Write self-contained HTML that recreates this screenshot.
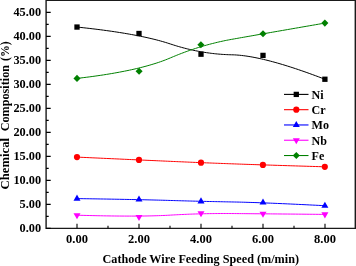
<!DOCTYPE html>
<html><head><meta charset="utf-8"><style>html,body{margin:0;padding:0;background:#fff;overflow:hidden}svg{display:block;will-change:transform}</style></head>
<body><svg width="356" height="266" viewBox="0 0 356 266">
<path d="M46.1 0.3H355.3V228.35H46.1Z" fill="none" stroke="#1a1a1a" stroke-width="1.4"/>
<text x="41.1" y="232.30" text-anchor="end" style="font-family:'Liberation Serif',serif;font-weight:bold;font-size:12.3px">0.00</text>
<text x="41.1" y="208.30" text-anchor="end" style="font-family:'Liberation Serif',serif;font-weight:bold;font-size:12.3px">5.00</text>
<text x="41.1" y="184.30" text-anchor="end" style="font-family:'Liberation Serif',serif;font-weight:bold;font-size:12.3px">10.00</text>
<text x="41.1" y="160.30" text-anchor="end" style="font-family:'Liberation Serif',serif;font-weight:bold;font-size:12.3px">15.00</text>
<text x="41.1" y="136.30" text-anchor="end" style="font-family:'Liberation Serif',serif;font-weight:bold;font-size:12.3px">20.00</text>
<text x="41.1" y="112.30" text-anchor="end" style="font-family:'Liberation Serif',serif;font-weight:bold;font-size:12.3px">25.00</text>
<text x="41.1" y="88.30" text-anchor="end" style="font-family:'Liberation Serif',serif;font-weight:bold;font-size:12.3px">30.00</text>
<text x="41.1" y="64.30" text-anchor="end" style="font-family:'Liberation Serif',serif;font-weight:bold;font-size:12.3px">35.00</text>
<text x="41.1" y="40.30" text-anchor="end" style="font-family:'Liberation Serif',serif;font-weight:bold;font-size:12.3px">40.00</text>
<text x="41.1" y="16.30" text-anchor="end" style="font-family:'Liberation Serif',serif;font-weight:bold;font-size:12.3px">45.00</text>
<text x="77" y="243" text-anchor="middle" style="font-family:'Liberation Serif',serif;font-weight:bold;font-size:12.5px">0.00</text>
<text x="139" y="243" text-anchor="middle" style="font-family:'Liberation Serif',serif;font-weight:bold;font-size:12.5px">2.00</text>
<text x="201" y="243" text-anchor="middle" style="font-family:'Liberation Serif',serif;font-weight:bold;font-size:12.5px">4.00</text>
<text x="263" y="243" text-anchor="middle" style="font-family:'Liberation Serif',serif;font-weight:bold;font-size:12.5px">6.00</text>
<text x="325" y="243" text-anchor="middle" style="font-family:'Liberation Serif',serif;font-weight:bold;font-size:12.5px">8.00</text>
<path d="M46.1 228.40h4.6 M46.1 204.40h4.6 M46.1 180.40h4.6 M46.1 156.40h4.6 M46.1 132.40h4.6 M46.1 108.40h4.6 M46.1 84.40h4.6 M46.1 60.40h4.6 M46.1 36.40h4.6 M46.1 12.40h4.6 M46.1 216.40h2.6 M46.1 192.40h2.6 M46.1 168.40h2.6 M46.1 144.40h2.6 M46.1 120.40h2.6 M46.1 96.40h2.6 M46.1 72.40h2.6 M46.1 48.40h2.6 M46.1 24.40h2.6 M77 228.35v-4.6 M139 228.35v-4.6 M201 228.35v-4.6 M263 228.35v-4.6 M325 228.35v-4.6 M108 228.35v-2.6 M170 228.35v-2.6 M232 228.35v-2.6 M294 228.35v-2.6" stroke="#000" stroke-width="1.1" fill="none"/>
<path d="M77.00 27.05 L80.11 27.38 L83.17 27.71 L86.20 28.05 L89.19 28.39 L92.14 28.74 L95.05 29.09 L97.92 29.45 L100.75 29.81 L103.54 30.18 L106.29 30.55 L109.00 30.93 L111.68 31.31 L114.31 31.70 L116.90 32.09 L119.46 32.49 L121.97 32.89 L124.45 33.29 L126.89 33.71 L129.28 34.12 L131.64 34.55 L133.96 34.97 L136.24 35.40 L138.48 35.84 L140.68 36.28 L142.84 36.73 L144.96 37.18 L147.04 37.64 L149.08 38.10 L151.09 38.57 L153.05 39.04 L154.97 39.51 L156.86 39.99 L158.70 40.48 L160.51 40.97 L162.28 41.47 L164.00 41.97 L165.69 42.48 L167.34 42.99 L168.95 43.50 L170.52 44.02 L172.08 44.53 L173.65 45.03 L175.21 45.52 L176.77 45.99 L178.34 46.46 L179.90 46.91 L181.46 47.34 L183.03 47.77 L184.59 48.18 L186.15 48.58 L187.71 48.97 L189.28 49.34 L190.84 49.71 L192.40 50.06 L193.97 50.39 L195.53 50.72 L197.09 51.03 L198.66 51.33 L200.22 51.62 L201.78 51.90 L203.34 52.16 L204.91 52.41 L206.47 52.65 L208.03 52.88 L209.60 53.09 L211.16 53.30 L212.72 53.48 L214.29 53.66 L215.85 53.83 L217.41 53.98 L218.97 54.12 L220.54 54.24 L222.10 54.36 L223.66 54.46 L225.23 54.55 L226.79 54.63 L228.35 54.70 L229.92 54.75 L231.48 54.79 L233.05 54.83 L234.66 54.89 L236.31 54.99 L238.00 55.11 L239.72 55.26 L241.49 55.45 L243.29 55.66 L245.14 55.90 L247.02 56.17 L248.94 56.47 L250.91 56.80 L252.91 57.16 L254.95 57.55 L257.03 57.97 L259.15 58.42 L261.31 58.90 L263.51 59.41 L265.74 59.95 L268.02 60.51 L270.34 61.11 L272.69 61.74 L275.08 62.39 L277.52 63.08 L279.99 63.79 L282.50 64.54 L285.06 65.31 L287.65 66.11 L290.28 66.95 L292.95 67.81 L295.65 68.70 L298.40 69.62 L301.19 70.58 L304.02 71.56 L306.88 72.57 L309.79 73.61 L312.73 74.68 L315.71 75.78 L318.74 76.90 L321.80 78.06 L324.90 79.25" stroke="#000000" stroke-width="1.0" fill="none"/>
<rect x="74.35" y="24.40" width="5.30" height="5.30" fill="#000000"/>
<rect x="136.35" y="30.85" width="5.30" height="5.30" fill="#000000"/>
<rect x="198.35" y="51.55" width="5.30" height="5.30" fill="#000000"/>
<rect x="260.35" y="52.75" width="5.30" height="5.30" fill="#000000"/>
<rect x="322.25" y="76.60" width="5.30" height="5.30" fill="#000000"/>
<path d="M77.00 157.10 L80.11 157.24 L83.17 157.38 L86.20 157.52 L89.19 157.66 L92.14 157.80 L95.05 157.93 L97.92 158.06 L100.75 158.19 L103.54 158.32 L106.29 158.44 L109.00 158.57 L111.68 158.69 L114.31 158.81 L116.90 158.93 L119.46 159.04 L121.97 159.16 L124.45 159.27 L126.89 159.38 L129.28 159.49 L131.64 159.60 L133.96 159.70 L136.24 159.81 L138.48 159.91 L140.68 160.01 L142.84 160.11 L144.96 160.20 L147.04 160.30 L149.08 160.39 L151.09 160.48 L153.05 160.57 L154.97 160.65 L156.86 160.74 L158.70 160.82 L160.51 160.90 L162.28 160.98 L164.00 161.06 L165.69 161.13 L167.34 161.21 L168.95 161.28 L170.52 161.35 L172.08 161.42 L173.65 161.49 L175.21 161.55 L176.77 161.62 L178.34 161.69 L179.90 161.76 L181.46 161.82 L183.02 161.89 L184.59 161.96 L186.15 162.02 L187.71 162.09 L189.27 162.16 L190.83 162.22 L192.40 162.29 L193.96 162.35 L195.52 162.41 L197.08 162.48 L198.64 162.54 L200.21 162.61 L201.77 162.67 L203.33 162.73 L204.89 162.79 L206.45 162.86 L208.01 162.92 L209.58 162.98 L211.14 163.04 L212.70 163.10 L214.26 163.16 L215.82 163.22 L217.38 163.28 L218.94 163.34 L220.50 163.40 L222.07 163.46 L223.63 163.52 L225.19 163.58 L226.75 163.63 L228.31 163.69 L229.87 163.75 L231.43 163.81 L233.00 163.86 L234.61 163.92 L236.25 163.98 L237.94 164.04 L239.66 164.10 L241.42 164.16 L243.23 164.22 L245.07 164.29 L246.95 164.35 L248.87 164.42 L250.83 164.48 L252.83 164.55 L254.87 164.62 L256.95 164.69 L259.07 164.76 L261.23 164.83 L263.42 164.90 L265.66 164.97 L267.93 165.04 L270.25 165.12 L272.60 165.19 L275.00 165.27 L277.43 165.35 L279.90 165.43 L282.41 165.50 L284.96 165.58 L287.55 165.67 L290.18 165.75 L292.85 165.83 L295.56 165.91 L298.30 166.00 L301.09 166.08 L303.92 166.17 L306.78 166.26 L309.69 166.35 L312.63 166.43 L315.61 166.52 L318.64 166.62 L321.70 166.71 L324.80 166.80" stroke="#FF0000" stroke-width="1.0" fill="none"/>
<circle cx="77.00" cy="157.10" r="3.10" fill="#FF0000"/>
<circle cx="139.00" cy="159.95" r="3.10" fill="#FF0000"/>
<circle cx="201.00" cy="162.70" r="3.10" fill="#FF0000"/>
<circle cx="262.90" cy="164.95" r="3.10" fill="#FF0000"/>
<circle cx="324.80" cy="166.80" r="3.10" fill="#FF0000"/>
<path d="M77.00 198.60 L80.11 198.65 L83.17 198.69 L86.20 198.74 L89.19 198.78 L92.14 198.83 L95.05 198.87 L97.92 198.92 L100.75 198.97 L103.54 199.01 L106.29 199.06 L109.00 199.10 L111.68 199.15 L114.31 199.20 L116.90 199.24 L119.46 199.29 L121.97 199.33 L124.45 199.38 L126.89 199.43 L129.28 199.47 L131.64 199.52 L133.96 199.57 L136.24 199.61 L138.48 199.66 L140.68 199.71 L142.84 199.75 L144.96 199.80 L147.04 199.85 L149.08 199.90 L151.09 199.94 L153.05 199.99 L154.97 200.04 L156.86 200.08 L158.70 200.13 L160.51 200.18 L162.28 200.23 L164.00 200.27 L165.69 200.32 L167.34 200.37 L168.95 200.42 L170.52 200.47 L172.08 200.51 L173.65 200.56 L175.21 200.61 L176.77 200.65 L178.34 200.70 L179.90 200.74 L181.46 200.79 L183.03 200.83 L184.59 200.87 L186.15 200.92 L187.71 200.96 L189.28 201.00 L190.84 201.04 L192.40 201.08 L193.97 201.12 L195.53 201.16 L197.09 201.20 L198.66 201.24 L200.22 201.28 L201.78 201.32 L203.34 201.36 L204.91 201.39 L206.47 201.43 L208.03 201.47 L209.60 201.50 L211.16 201.54 L212.72 201.57 L214.29 201.60 L215.85 201.64 L217.41 201.67 L218.97 201.70 L220.54 201.73 L222.10 201.76 L223.66 201.79 L225.23 201.83 L226.79 201.85 L228.35 201.88 L229.92 201.91 L231.48 201.94 L233.05 201.97 L234.66 202.00 L236.31 202.04 L238.00 202.07 L239.72 202.12 L241.49 202.16 L243.29 202.21 L245.14 202.26 L247.02 202.32 L248.94 202.38 L250.91 202.44 L252.91 202.50 L254.95 202.57 L257.03 202.64 L259.15 202.72 L261.31 202.80 L263.51 202.88 L265.74 202.97 L268.02 203.05 L270.34 203.15 L272.69 203.24 L275.08 203.34 L277.52 203.44 L279.99 203.55 L282.50 203.66 L285.06 203.77 L287.65 203.89 L290.28 204.01 L292.95 204.13 L295.65 204.25 L298.40 204.38 L301.19 204.52 L304.02 204.65 L306.88 204.79 L309.79 204.94 L312.73 205.08 L315.71 205.23 L318.74 205.38 L321.80 205.54 L324.90 205.70" stroke="#0000FF" stroke-width="1.0" fill="none"/>
<path d="M77.00 194.53L80.50 200.63L73.50 200.63Z" fill="#0000FF"/>
<path d="M139.00 195.43L142.50 201.53L135.50 201.53Z" fill="#0000FF"/>
<path d="M201.00 197.33L204.50 203.43L197.50 203.43Z" fill="#0000FF"/>
<path d="M263.00 198.43L266.50 204.53L259.50 204.53Z" fill="#0000FF"/>
<path d="M324.90 201.63L328.40 207.73L321.40 207.73Z" fill="#0000FF"/>
<path d="M77.00 215.20 L80.11 215.29 L83.17 215.37 L86.20 215.45 L89.19 215.53 L92.14 215.60 L95.05 215.66 L97.92 215.72 L100.75 215.78 L103.54 215.83 L106.29 215.88 L109.00 215.92 L111.68 215.96 L114.31 215.99 L116.90 216.02 L119.46 216.04 L121.97 216.06 L124.45 216.07 L126.89 216.08 L129.28 216.09 L131.64 216.09 L133.96 216.08 L136.24 216.07 L138.48 216.06 L140.68 216.04 L142.84 216.02 L144.96 215.99 L147.04 215.96 L149.08 215.92 L151.09 215.88 L153.05 215.83 L154.97 215.78 L156.86 215.73 L158.70 215.67 L160.51 215.60 L162.28 215.53 L164.00 215.46 L165.69 215.38 L167.34 215.30 L168.95 215.21 L170.52 215.12 L172.08 215.03 L173.65 214.94 L175.21 214.85 L176.77 214.77 L178.34 214.69 L179.90 214.61 L181.46 214.54 L183.03 214.47 L184.59 214.40 L186.15 214.33 L187.71 214.26 L189.28 214.20 L190.84 214.14 L192.40 214.09 L193.97 214.03 L195.53 213.98 L197.09 213.93 L198.66 213.89 L200.22 213.85 L201.78 213.81 L203.34 213.77 L204.91 213.73 L206.47 213.70 L208.03 213.67 L209.60 213.64 L211.16 213.62 L212.72 213.60 L214.29 213.58 L215.85 213.56 L217.41 213.55 L218.97 213.54 L220.54 213.53 L222.10 213.52 L223.66 213.52 L225.23 213.52 L226.79 213.52 L228.35 213.53 L229.92 213.54 L231.48 213.55 L233.05 213.56 L234.66 213.57 L236.31 213.59 L238.00 213.60 L239.72 213.61 L241.49 213.63 L243.29 213.64 L245.14 213.66 L247.02 213.68 L248.94 213.69 L250.91 213.71 L252.91 213.73 L254.95 213.75 L257.03 213.76 L259.15 213.78 L261.31 213.80 L263.51 213.82 L265.74 213.84 L268.02 213.86 L270.34 213.88 L272.69 213.91 L275.08 213.93 L277.52 213.95 L279.99 213.97 L282.50 214.00 L285.06 214.02 L287.65 214.04 L290.28 214.07 L292.95 214.09 L295.65 214.12 L298.40 214.15 L301.19 214.17 L304.02 214.20 L306.88 214.23 L309.79 214.25 L312.73 214.28 L315.71 214.31 L318.74 214.34 L321.80 214.37 L324.90 214.40" stroke="#FF00FF" stroke-width="1.0" fill="none"/>
<path d="M77.00 219.27L80.50 213.17L73.50 213.17Z" fill="#FF00FF"/>
<path d="M139.00 221.07L142.50 214.97L135.50 214.97Z" fill="#FF00FF"/>
<path d="M201.00 217.37L204.50 211.27L197.50 211.27Z" fill="#FF00FF"/>
<path d="M263.00 217.87L266.50 211.77L259.50 211.77Z" fill="#FF00FF"/>
<path d="M324.90 218.47L328.40 212.37L321.40 212.37Z" fill="#FF00FF"/>
<path d="M77.00 78.40 L80.11 78.04 L83.18 77.67 L86.21 77.29 L89.21 76.91 L92.16 76.51 L95.07 76.11 L97.95 75.70 L100.78 75.29 L103.57 74.86 L106.33 74.43 L109.04 73.99 L111.72 73.54 L114.35 73.09 L116.95 72.62 L119.50 72.15 L122.02 71.67 L124.50 71.18 L126.94 70.69 L129.33 70.19 L131.69 69.68 L134.01 69.16 L136.29 68.63 L138.53 68.10 L140.72 67.56 L142.88 67.01 L145.00 66.45 L147.08 65.89 L149.12 65.31 L151.13 64.73 L153.09 64.14 L155.01 63.55 L156.89 62.94 L158.73 62.33 L160.53 61.71 L162.30 61.08 L164.02 60.45 L165.70 59.80 L167.35 59.15 L168.95 58.49 L170.52 57.83 L172.08 57.17 L173.64 56.52 L175.19 55.88 L176.75 55.25 L178.31 54.63 L179.87 54.02 L181.43 53.42 L182.99 52.82 L184.55 52.24 L186.11 51.67 L187.67 51.11 L189.23 50.56 L190.79 50.02 L192.35 49.49 L193.91 48.96 L195.47 48.45 L197.03 47.95 L198.60 47.46 L200.16 46.98 L201.72 46.50 L203.28 46.04 L204.84 45.59 L206.40 45.14 L207.97 44.71 L209.53 44.29 L211.09 43.87 L212.66 43.47 L214.22 43.08 L215.78 42.69 L217.35 42.32 L218.91 41.95 L220.47 41.60 L222.04 41.25 L223.60 40.92 L225.17 40.59 L226.73 40.28 L228.30 39.97 L229.86 39.68 L231.43 39.39 L233.00 39.11 L234.61 38.83 L236.26 38.54 L237.95 38.24 L239.68 37.93 L241.45 37.62 L243.26 37.30 L245.10 36.98 L246.99 36.65 L248.91 36.31 L250.88 35.97 L252.88 35.61 L254.92 35.26 L257.00 34.89 L259.12 34.52 L261.28 34.14 L263.48 33.76 L265.72 33.37 L267.99 32.97 L270.31 32.57 L272.67 32.16 L275.06 31.74 L277.49 31.32 L279.97 30.89 L282.48 30.45 L285.03 30.01 L287.62 29.55 L290.25 29.10 L292.92 28.63 L295.62 28.16 L298.37 27.69 L301.15 27.20 L303.98 26.71 L306.84 26.22 L309.75 25.71 L312.69 25.21 L315.67 24.69 L318.69 24.17 L321.75 23.64 L324.85 23.10" stroke="#008000" stroke-width="1.0" fill="none"/>
<path d="M77.00 74.85L80.55 78.40L77.00 81.95L73.45 78.40Z" fill="#008000"/>
<path d="M139.10 67.75L142.65 71.30L139.10 74.85L135.55 71.30Z" fill="#008000"/>
<path d="M200.90 41.25L204.45 44.80L200.90 48.35L197.35 44.80Z" fill="#008000"/>
<path d="M263.00 30.25L266.55 33.80L263.00 37.35L259.45 33.80Z" fill="#008000"/>
<path d="M324.85 19.55L328.40 23.10L324.85 26.65L321.30 23.10Z" fill="#008000"/>
<path d="M284 94.40H308.5" stroke="#000000" stroke-width="1.1"/>
<rect x="293.65" y="91.75" width="5.30" height="5.30" fill="#000000"/>
<text transform="translate(311.5 98.80) scale(0.93 1)" style="font-family:'Liberation Serif',serif;font-weight:bold;font-size:13px">Ni</text>
<path d="M284 109.68H308.5" stroke="#FF0000" stroke-width="1.1"/>
<circle cx="296.30" cy="109.68" r="3.10" fill="#FF0000"/>
<text transform="translate(311.5 114.08) scale(0.93 1)" style="font-family:'Liberation Serif',serif;font-weight:bold;font-size:13px">Cr</text>
<path d="M284 124.96H308.5" stroke="#0000FF" stroke-width="1.1"/>
<path d="M296.30 120.89L299.80 126.99L292.80 126.99Z" fill="#0000FF"/>
<text transform="translate(311.5 129.36) scale(0.93 1)" style="font-family:'Liberation Serif',serif;font-weight:bold;font-size:13px">Mo</text>
<path d="M284 140.24H308.5" stroke="#FF00FF" stroke-width="1.1"/>
<path d="M296.30 144.31L299.80 138.21L292.80 138.21Z" fill="#FF00FF"/>
<text transform="translate(311.5 144.64) scale(0.93 1)" style="font-family:'Liberation Serif',serif;font-weight:bold;font-size:13px">Nb</text>
<path d="M284 155.52H308.5" stroke="#008000" stroke-width="1.1"/>
<path d="M296.30 151.97L299.85 155.52L296.30 159.07L292.75 155.52Z" fill="#008000"/>
<text transform="translate(311.5 159.92) scale(0.93 1)" style="font-family:'Liberation Serif',serif;font-weight:bold;font-size:13px">Fe</text>
<text x="102.5" y="263.1" textLength="196.5" lengthAdjust="spacingAndGlyphs" style="font-family:'Liberation Serif',serif;font-weight:bold;font-size:12.8px">Cathode Wire Feeding Speed (m/min)</text>
<text transform="translate(9.3 189.4) rotate(-90)" x="0" y="0" style="font-family:'Liberation Serif',serif;font-weight:bold;font-size:12.7px">Chemical</text>
<text transform="translate(9.3 131.3) rotate(-90)" x="0" y="0" textLength="66.3" lengthAdjust="spacingAndGlyphs" style="font-family:'Liberation Serif',serif;font-weight:bold;font-size:12.7px">Composition</text>
<text transform="translate(9.3 61.0) rotate(-90)" x="0" y="0" textLength="19.6" lengthAdjust="spacingAndGlyphs" style="font-family:'Liberation Serif',serif;font-weight:bold;font-size:12.8px">(%)</text>
</svg></body></html>
